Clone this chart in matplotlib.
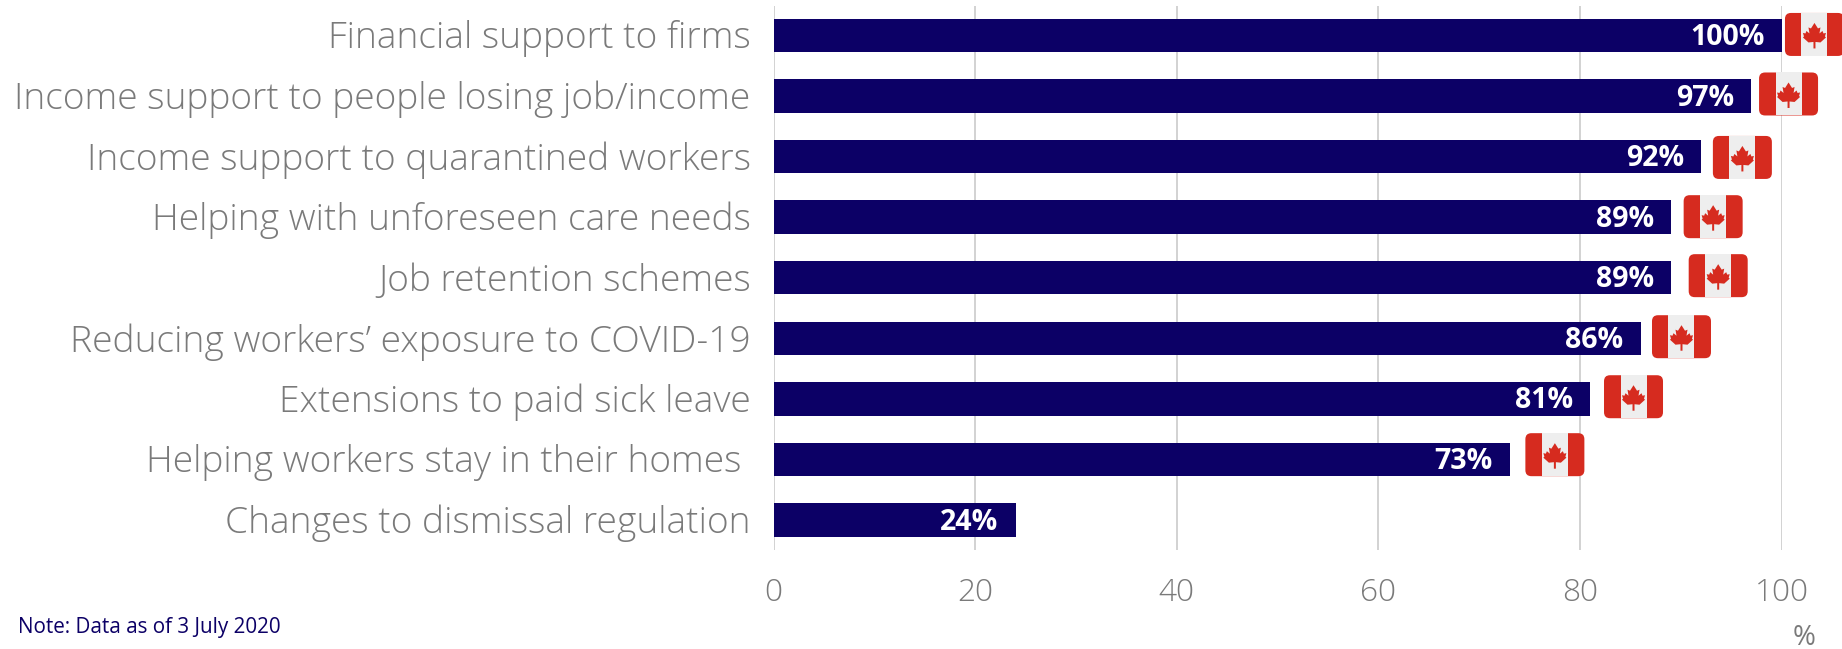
import numpy as np
import matplotlib
matplotlib.use('Agg')
import matplotlib.pyplot as plt
from matplotlib.patches import FancyBboxPatch, Polygon, Rectangle
from matplotlib.transforms import Affine2D, ScaledTranslation

# survey categories, top bar first
categories = ['Financial support to firms',
              'Income support to people losing job/income',
              'Income support to quarantined workers',
              'Helping with unforeseen care needs',
              'Job retention schemes',
              'Reducing workers\u2019 exposure to COVID-19',
              'Extensions to paid sick leave',
              'Helping workers stay in their homes\u00a0',
              'Changes to dismissal regulation']
values = [100, 97, 92, 89, 89, 86, 81, 73, 24]
# flag centres on the axes scales (the last row has no flag)
flag_x = [103.25, 100.68, 96.1, 93.2, 93.7, 90.06, 85.3, 77.5, None]
flag_y = [-0.017, 0.966, 2.014, 2.992, 3.966, 4.974, 5.965, 6.922, None]
xticks = [0, 20, 40, 60, 80, 100]

NAVY = '#0c0066'
GREY = '#7a7a7a'
W, H = 1842, 649

# half a maple leaf, x/y in pixels from the flag centre
leaf_half = [(0, -11.5), (3.5, -6), (6, -7), (5, -1), (8, -3.5), (9, -1),
             (11.5, -1.5), (10.5, 2), (11.5, 3), (6, 8), (1, 7.5), (1, 14),
             (0, 14)]


def draw_flag(ax, x, y):
    # flag is sized in pixels so the corners stay round
    cx, cy = ax.transData.transform((x, y))
    tr = Affine2D().translate(cx, cy)
    w, h, band = 59, 43, 16.5
    ax.add_patch(FancyBboxPatch((-w / 2 + 6, -h / 2 + 6), w - 12, h - 12,
                                boxstyle='round,pad=6,rounding_size=6',
                                fc='#d62b1f', ec='none', transform=tr,
                                clip_on=False, zorder=4))
    ax.add_patch(Rectangle((-w / 2 + band, -h / 2), w - 2 * band, h,
                           fc='#eeeeee', ec='none', transform=tr,
                           clip_on=False, zorder=5))
    right = [(px, -py) for px, py in leaf_half]
    left = [(-px, -py) for px, py in leaf_half[::-1]]
    ax.add_patch(Polygon(right + left, closed=True, fc='#d62b1f', ec='none',
                         transform=tr, clip_on=False, zorder=6))


plt.rcParams['font.family'] = ['Open Sans', 'DejaVu Sans']

fig = plt.figure(figsize=(W / 100, H / 100), dpi=100)
ax = fig.add_axes([773.6 / W, 1 - 550 / H, (1781.7 - 773.6) / W, (550 - 5.5) / H])

y = np.arange(len(categories))
ax.barh(y, values, height=0.553, color=NAVY, zorder=3)
ax.set_xlim(0, 100)
ax.set_ylim(8.496, -0.495)

ax.set_xticks(xticks)
ax.set_yticks(y)
ax.set_yticklabels(categories)
ax.tick_params(axis='y', length=0, pad=16.5, labelsize=26.7, labelcolor=GREY)
ax.tick_params(axis='x', length=0, pad=19.5, labelsize=22.8, labelcolor=GREY)
ax.grid(axis='x', color='#d2d2d2', lw=1.4, zorder=0)
ax.set_axisbelow(True)
for s in ax.spines.values():
    s.set_visible(False)

# nudge the row labels up a little
nudge = ScaledTranslation(0, 1 / 100, fig.dpi_scale_trans)
for lab in ax.get_yticklabels():
    lab.set_transform(lab.get_transform() + nudge)
    lab.set_fontweight('light')
for lab in ax.get_xticklabels():
    lab.set_fontweight('light')

for i, v in enumerate(values):
    ax.annotate(f'{v}%', (v, i), xytext=(-12.2, -1.5), textcoords='offset points',
                ha='right', va='center', color='white', fontsize=20.5,
                fontweight='bold', zorder=7)
    if flag_x[i] is not None:
        draw_flag(ax, flag_x[i], flag_y[i])

fig.text(18 / W, 1 - 633 / H, 'Note: Data as of 3 July 2020', color=NAVY,
         fontsize=14.85, ha='left', va='baseline')
fig.text(1804 / W, 1 - 645 / H, '%', color=GREY, fontsize=20, ha='center', va='baseline')

fig.savefig('out.png', dpi=100)
